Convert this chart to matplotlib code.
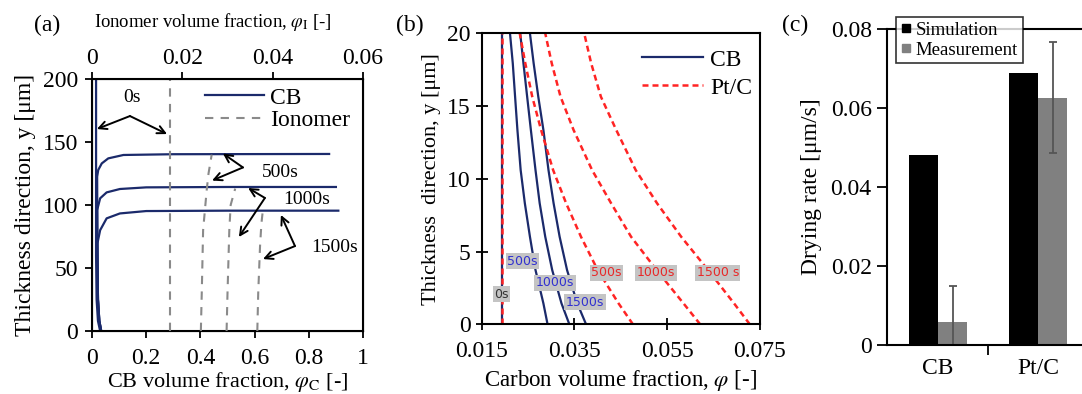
import matplotlib
matplotlib.use("Agg")
import matplotlib.pyplot as plt
from matplotlib.lines import Line2D

plt.rcParams['font.family'] = ['Liberation Serif', 'DejaVu Serif']
plt.rcParams['mathtext.fontset'] = 'stix'

W, H = 1082, 394

# ---------------- Panel (a) data ----------------
cb0_x = [0.030, 0.022, 0.017, 0.015, 0.015]
cb0_y = [0, 8, 25, 60, 200]
cb500_x = [0.034, 0.027, 0.022, 0.020, 0.019, 0.023, 0.036, 0.060, 0.116, 0.300, 0.875]
cb500_y = [0, 8, 25, 60, 122.5, 127.8, 133, 137, 139.7, 140.3, 140.5]
cb1000_x = [0.034, 0.027, 0.022, 0.020, 0.019, 0.030, 0.054, 0.103, 0.200, 0.500, 0.900]
cb1000_y = [0, 8, 25, 60, 96, 105.3, 110, 112.7, 114, 114.3, 114.3]
cb1500_x = [0.034, 0.027, 0.022, 0.020, 0.030, 0.054, 0.103, 0.200, 0.500, 0.909]
cb1500_y = [0, 8, 25, 69.6, 80, 89.4, 93.3, 95.2, 95.5, 95.5]

ion0_x = [0.0173, 0.0173]
ion0_y = [0, 200]
ion500_x = [0.0241, 0.0243, 0.0246, 0.0254, 0.0258, 0.0265]
ion500_y = [0, 30, 80, 112, 125, 140]
ion1000_x = [0.0298, 0.0300, 0.0304, 0.0307, 0.0317]
ion1000_y = [0, 30, 80, 100, 113]
ion1500_x = [0.0366, 0.0368, 0.0372, 0.0375, 0.0378]
ion1500_y = [0, 30, 67, 85, 95]

a_xticks = [0, 0.2, 0.4, 0.6, 0.8, 1]
a_xticklabels = ['0', '0.2', '0.4', '0.6', '0.8', '1']
a_topticks = [0, 0.02, 0.04, 0.06]
a_toplabels = ['0', '0.02', '0.04', '0.06']
a_yticks = [0, 50, 100, 150, 200]

# ---------------- Panel (b) data ----------------
b_y = [0, 1.44, 3.73, 6.02, 8.32, 10.6, 13.36, 15.64, 17.94, 20]
b_init = 0.0194
b_cb500 = [0.0292, 0.0283, 0.0266, 0.0254, 0.0243, 0.0234, 0.0227, 0.0222, 0.0217, 0.0211]
b_cb1000 = [0.0339, 0.0322, 0.0302, 0.0287, 0.0275, 0.0266, 0.0256, 0.0248, 0.0240, 0.0233]
b_cb1500 = [0.0375, 0.0356, 0.0334, 0.0318, 0.0305, 0.0294, 0.0283, 0.0272, 0.0262, 0.0254]
b_pt500 = [0.0476, 0.0445, 0.0400, 0.0364, 0.0332, 0.0304, 0.0278, 0.0259, 0.0244, 0.0232]
b_pt1000 = [0.0621, 0.0585, 0.0527, 0.0472, 0.0429, 0.0388, 0.0348, 0.0320, 0.0301, 0.0287]
b_pt1500 = [0.0728, 0.0694, 0.0638, 0.0580, 0.0528, 0.0482, 0.0440, 0.0407, 0.0386, 0.0371]
b_xticks = [0.015, 0.035, 0.055, 0.075]
b_xticklabels = ['0.015', '0.035', '0.055', '0.075']
b_yticks = [0, 5, 10, 15, 20]

# ---------------- Panel (c) data ----------------
c_groups = ['CB', 'Pt/C']
c_sim = [0.0481, 0.0688]
c_meas = [0.0059, 0.0626]
c_meas_err = [0.0090, 0.0141]
c_yticks = [0, 0.02, 0.04, 0.06, 0.08]
c_yticklabels = ['0', '0.02', '0.04', '0.06', '0.08']

NAVY = '#1b2a6b'
IONC = '#8a8a8a'
RED = '#ff2424'
FS = 17
ION_DASH = (4, 3.5)
PT_DASH = (2.4, 1.6)

fig = plt.figure(figsize=(W / 100, H / 100), dpi=100)


def ax_rect(l, t, r, b):
    return [l / W, 1 - b / H, (r - l) / W, (b - t) / H]


# ================= Panel (a) =================
ax = fig.add_axes(ax_rect(92, 79, 363, 331))
for xs, ys in [(cb0_x, cb0_y), (cb500_x, cb500_y), (cb1000_x, cb1000_y), (cb1500_x, cb1500_y)]:
    ax.plot(xs, ys, color=NAVY, lw=1.6)
ax.set_xlim(0, 1)
ax.set_ylim(0, 200)
ax.set_xticks(a_xticks)
ax.set_xticklabels(a_xticklabels)
ax.set_yticks(a_yticks)
ax.tick_params(axis='both', labelsize=FS, direction='out', length=5, width=1.3, pad=5)
ax.tick_params(axis='x', pad=7)
for s in ax.spines.values():
    s.set_linewidth(1.5)
ax.set_xlabel(r'CB volume fraction, $\varphi_\mathrm{C}$ [-]', fontsize=16, labelpad=1)
ax.set_ylabel(r'Thickness direction, y [μm]', fontsize=FS, labelpad=5)

ax2 = ax.twiny()
ax2.set_xlim(0, 0.06)
for xs, ys in [(ion0_x, ion0_y), (ion500_x, ion500_y), (ion1000_x, ion1000_y), (ion1500_x, ion1500_y)]:
    ax2.plot(xs, ys, color=IONC, lw=1.5, dashes=ION_DASH)
ax2.set_xticks(a_topticks)
ax2.set_xticklabels(a_toplabels)
ax2.tick_params(axis='x', labelsize=FS, direction='out', length=5, width=1.3, pad=2)
fig.text(213 / W, 1 - 22 / H, r'Ionomer volume fraction, $\varphi_\mathrm{I}$ [-]',
         fontsize=13.5, ha='center', va='center')
fig.text(47 / W, 1 - 25 / H, '(a)', fontsize=FS, ha='center', va='center')

ax2.legend([Line2D([], [], color=NAVY, lw=1.6), Line2D([], [], color=IONC, lw=1.5, dashes=ION_DASH)],
           ['CB', 'Ionomer'], loc='upper left', bbox_to_anchor=(205 / W, 1 - 87 / H),
           bbox_transform=fig.transFigure, frameon=False, fontsize=FS, borderpad=0,
           borderaxespad=0, handlelength=2.5, handletextpad=0.25, labelspacing=0.05)

arrow_kw = dict(arrowstyle='->', color='black', lw=1.4, shrinkA=0, shrinkB=0,
                mutation_scale=14)
annots = [
    ('0s', (0.148, 185), (0.140, 170.6), [(0.018, 160.3), (0.277, 156.3)]),
    ('500s', (0.694, 125.4), (0.557, 129.8), [(0.483, 140.9), (0.443, 119.4)]),
    ('1000s', (0.793, 104.0), (0.638, 105.6), [(0.576, 113.5), (0.542, 74.6)]),
    ('1500s', (0.897, 66.6), (0.749, 67.4), [(0.697, 92.1), (0.631, 57.1)]),
]
for txt, tpos, vert, targets in annots:
    ax.text(tpos[0], tpos[1], txt, fontsize=14, ha='center', va='center')
    for tg in targets:
        ax.annotate('', xy=tg, xytext=vert, arrowprops=arrow_kw)

# ================= Panel (b) =================
bx = fig.add_axes(ax_rect(481.7, 33.3, 760, 324.3))
bx.plot([b_init, b_init], [0, 20], color=NAVY, lw=1.6)
for xs in [b_cb500, b_cb1000, b_cb1500]:
    bx.plot(xs, b_y, color=NAVY, lw=1.6)
bx.plot([b_init, b_init], [0, 20], color=RED, lw=1.8, dashes=PT_DASH)
for xs in [b_pt500, b_pt1000, b_pt1500]:
    bx.plot(xs, b_y, color=RED, lw=1.8, dashes=PT_DASH)
bx.set_xlim(0.015, 0.075)
bx.set_ylim(0, 20)
bx.set_xticks(b_xticks)
bx.set_xticklabels(b_xticklabels)
bx.set_yticks(b_yticks)
bx.tick_params(axis='both', labelsize=FS, direction='inout', length=8, width=1.3, pad=4)
bx.tick_params(axis='x', pad=8)
for s in bx.spines.values():
    s.set_linewidth(1.5)
bx.set_xlabel(r'Carbon volume fraction, $\varphi$ [-]', fontsize=16.5, labelpad=4)
bx.set_ylabel(r'Thickness  direction, y [μm]', fontsize=16, labelpad=4)
fig.text(410 / W, 1 - 25 / H, '(b)', fontsize=FS, ha='center', va='center')
bx.legend([Line2D([], [], color=NAVY, lw=1.6), Line2D([], [], color=RED, lw=1.8, dashes=PT_DASH)],
          ['CB', 'Pt/C'], loc='upper left', bbox_to_anchor=(641.7 / W, 1 - 49 / H),
          bbox_transform=fig.transFigure, frameon=False, fontsize=FS, borderpad=0,
          borderaxespad=0, handlelength=2.6, handletextpad=0.3, labelspacing=0.28)

box = dict(boxstyle='square,pad=0.12', fc='#c4c4c4', ec='none')
tlabels = [
    ('0s', 0.0193, 2.06, '#333333'),
    ('500s', 0.0238, 4.35, '#3030d0'),
    ('1000s', 0.0308, 2.86, '#3030d0'),
    ('1500s', 0.0373, 1.51, '#3030d0'),
    ('500s', 0.0419, 3.55, '#e82828'),
    ('1000s', 0.0526, 3.55, '#e82828'),
    ('1500 s', 0.0659, 3.55, '#e82828'),
]
for t, x, y, c in tlabels:
    bx.text(x, y, t, fontsize=9, family='DejaVu Sans', color=c, ha='center', va='center', bbox=box)

# ================= Panel (c) =================
cx = fig.add_axes(ax_rect(887, 29, 1089, 345))
pos = list(range(len(c_groups)))
bw = 0.29
cx.bar([p - bw / 2 for p in pos], c_sim, width=bw, color='black', label='Simulation')
cx.bar([p + bw / 2 for p in pos], c_meas, width=bw, color='#808080', label='Measurement')
cx.errorbar([p + bw / 2 for p in pos], c_meas, yerr=c_meas_err, fmt='none', ecolor='#555555',
            elinewidth=1.3, capsize=3, capthick=1.3)
cx.set_xlim(-0.51, 1.51)
cx.set_ylim(0, 0.08)
cx.set_yticks(c_yticks)
cx.set_yticklabels(c_yticklabels)
cx.set_xticks([0.5])
cx.set_xticklabels([''])
cx.set_xticks(pos, minor=True)
cx.set_xticklabels(c_groups, minor=True)
cx.tick_params(axis='x', which='minor', length=0, labelsize=FS, pad=9)
cx.tick_params(axis='x', which='major', direction='out', length=7, width=1.3)
cx.tick_params(axis='y', labelsize=FS, direction='out', length=7, width=1.3, pad=4)
for s in cx.spines.values():
    s.set_linewidth(1.5)
cx.set_ylabel('Drying rate [μm/s]', fontsize=FS, labelpad=6)
fig.text(795 / W, 1 - 25 / H, '(c)', fontsize=FS, ha='center', va='center')
leg = cx.legend([Line2D([], [], ls='none', marker='s', ms=6, color='black'),
                 Line2D([], [], ls='none', marker='s', ms=6, color='#808080')],
                ['Simulation', 'Measurement'], loc='upper left',
                bbox_to_anchor=(896 / W, 1 - 17 / H), bbox_transform=fig.transFigure,
                fontsize=13.5, frameon=True, fancybox=False, borderaxespad=0, borderpad=0.25,
                handlelength=0.6, handletextpad=0.2, labelspacing=0.15)
leg.get_frame().set_edgecolor('black')
leg.get_frame().set_linewidth(1.2)
leg.set_zorder(10)

fig.savefig('out.png', dpi=100)
